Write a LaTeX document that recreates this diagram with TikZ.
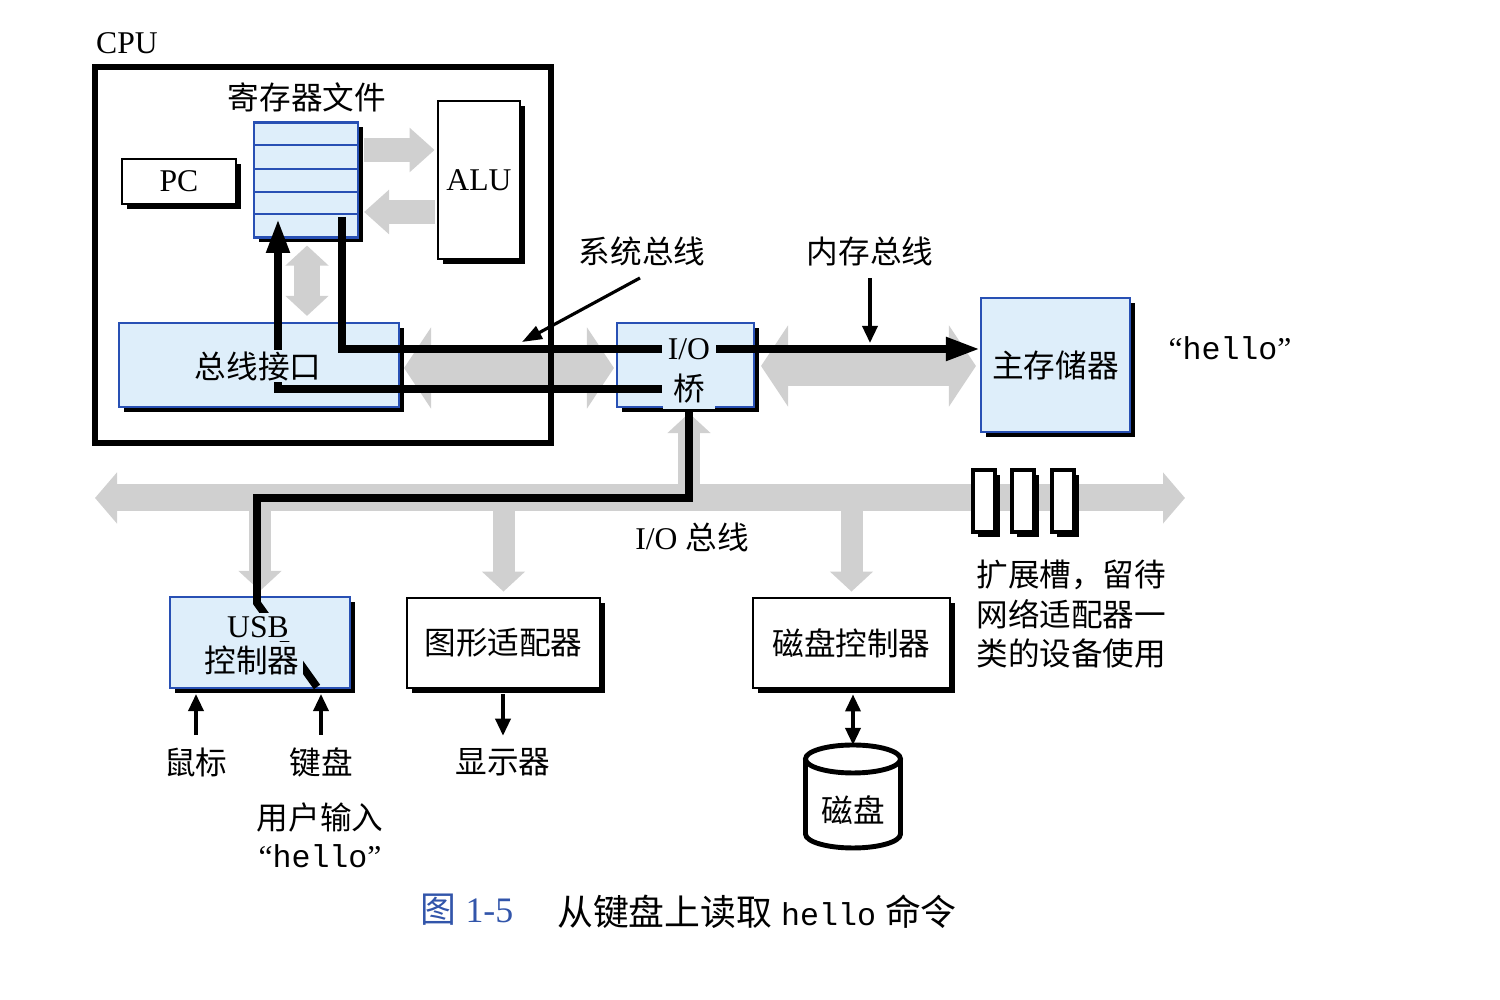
\documentclass[tikz,border=0pt]{standalone}
\usepackage{fontspec}
\setmainfont{Liberation Serif}
\newfontfamily\cjk{Noto Sans CJK SC}
\newfontfamily\hellofont{Liberation Mono}
\usepackage{xcolor}
\usetikzlibrary{
	arrows.meta,
	calc,
	shadows
}
\definecolor{BoxBlue}{RGB}{222,238,250}
\definecolor{EdgeBlue}{RGB}{40,80,180}
\definecolor{BusGray}{RGB}{208,208,208}
\definecolor{CapBlue}{RGB}{50,85,170}
\pgfdeclarelayer{bus}
\pgfdeclarelayer{front}
\pgfsetlayers{bus,main,front}
\newcommand{\quotedhello}{“{\hellofont hello}”}
\tikzset{
	wirehead/.tip={Triangle[length=0.34cm,width=0.22cm]},
	smallhead/.tip={Triangle[length=0.17cm,width=0.15cm]},
	alhead/.tip={Triangle[length=0.25cm,width=0.43cm]},
	sysbushead/.tip={Triangle[length=0.27cm,width=0.8cm]},
	iobushead/.tip={Triangle[length=0.22cm,width=0.5cm]},
	drophead/.tip={Triangle[length=0.2cm,width=0.42cm]}
}

\begin{document}
\begin{tikzpicture}[
		font=\fontsize{9pt}{11pt}\selectfont,
		cn/.style={font=\fontsize{9pt}{11pt}\selectfont\cjk},
		whitebox/.style={draw, line width=0.8pt, fill=white, inner sep=0pt,
			drop shadow={shadow xshift=0.05cm, shadow yshift=-0.05cm, fill=black, opacity=1}},
		bluebox/.style={whitebox, draw=EdgeBlue, fill=BoxBlue, line width=0.6pt},
		masked/.style={fill=BoxBlue, inner sep=1.5pt},
		wire/.style={line width=2.2pt},
		thinarrow/.style={line width=1pt},
		busarrow/.style={draw=BusGray, line width=#1}
	]
		\useasboundingbox (0,0) rectangle (15,-10);
		% CPU and its parts
		\node[draw, line width=1.6pt, minimum width=4.56cm, minimum height=3.76cm] (cpu) at (3.23,-2.55) {};
		\node (cpuname) at (1.27,-0.43) {CPU};
		\node[cn] (regname) at (3.07,-0.97) {寄存器文件};
		\node[bluebox, minimum width=1.04cm, minimum height=1.15cm] (regfile) at (3.06,-1.80) {};
		\foreach \y in {1.45,1.69,1.92,2.14}
			\draw[EdgeBlue, line width=0.6pt] (2.54,-\y) -- (3.58,-\y);
		\node[whitebox, minimum width=1.14cm, minimum height=0.45cm] (pc) at (1.79,-1.815) {PC};
		\node[whitebox, minimum width=0.82cm, minimum height=1.58cm] (alu) at (4.79,-1.80) {ALU};
		\node[bluebox, minimum width=2.80cm, minimum height=0.84cm] (busif) at (2.59,-3.65) {};
		% bridge, memory
		\node[bluebox, minimum width=1.37cm, minimum height=0.84cm] (bridge) at (6.855,-3.65) {};
		\node[bluebox, cn, minimum width=1.49cm, minimum height=1.34cm] (mem) at (10.555,-3.65) {主存储器};
		\node (memhello) at (12.30,-3.48) {\quotedhello};
		% devices
		\node[bluebox, minimum width=1.80cm, minimum height=0.91cm] (usb) at (2.60,-6.425) {};
		\node[whitebox, cn, minimum width=1.93cm, minimum height=0.90cm] (gfx) at (5.035,-6.43) {图形适配器};
		\node[whitebox, cn, minimum width=1.97cm, minimum height=0.90cm] (diskctl) at (8.515,-6.43) {磁盘控制器};
		\foreach \x [count=\i] in {9.84,10.23,10.63}
			\node[whitebox, line width=1pt, minimum width=0.22cm, minimum height=0.62cm] (slot\i) at (\x,-5.01) {};
		% texts that sit on the wires
		\begin{pgfonlayer}{front}
			\node[masked, cn, inner sep=0.5pt] (busiftext) at (2.58,-3.66) {总线接口};
			\node[masked] (iotext) at (6.89,-3.49) {I/O};
			\node[masked, cn, inner xsep=3pt] (qiao) at (6.89,-3.89) {桥};
			\node[masked, inner sep=1pt] (usbname) at (2.58,-6.27) {USB};
			\node[masked, cn, inner sep=1pt] (usbctl) at (2.52,-6.60) {控制器};
		\end{pgfonlayer}
		% labels
		\node[cn] (sysbus) at (6.42,-2.51) {系统总线};
		\node[cn] (membus) at (8.70,-2.51) {内存总线};
		\node (iobusname) at (6.92,-5.37) {I/O {\cjk 总线}};
		\node[anchor=north west, align=left, font=\fontsize{9pt}{11.2pt}\selectfont\cjk] (slotnote) at (9.64,-5.48) {扩展槽，留待\\网络适配器一\\类的设备使用};
		\node[cn] (mouse) at (1.96,-7.62) {鼠标};
		\node[cn] (keyboard) at (3.21,-7.62) {键盘};
		\node[cn] (display) at (5.03,-7.62) {显示器};
		\node[align=center, font=\fontsize{9pt}{10.8pt}\selectfont] (userin) at (3.20,-8.35) {{\cjk 用户输入}\\\quotedhello};
		\node[cn] (disklabel) at (8.53,-8.10) {磁盘};
		\node[text=CapBlue, font=\fontsize{10.2pt}{12pt}\selectfont] (capnum) at (4.67,-9.10) {{\cjk 图} 1-5};
		\node[font=\fontsize{10.2pt}{12pt}\selectfont] (captext) at (7.57,-9.12) {{\cjk 从键盘上读取} {\fontsize{9pt}{11pt}\selectfont\hellofont hello} {\cjk 命令}};
		\coordinate (iobusL) at (0.95,-4.98);
		\coordinate (iobusR) at (11.85,-4.98);
		\coordinate (regout) at (3.42,-2.17);
		\coordinate (regin) at (2.78,-2.19);
		\coordinate (usbbend) at (2.57,-4.98);
		\coordinate (usbtop) at (2.57,-6.03);
		\coordinate (usbin) at (3.17,-6.87);
		\coordinate (sysbustip) at (5.22,-3.42);
		\coordinate (membustip) at (8.70,-3.43);
		\coordinate (disktop) at (8.53,-7.45);
		% grey buses
		\begin{pgfonlayer}{bus}
			\draw[busarrow=0.24cm, -alhead] ($(regfile.east)+(0.05,0.30)$) -- ($(alu.west)+(-0.02,0.30)$);
			\draw[busarrow=0.24cm, -alhead] ($(alu.west)+(-0.02,-0.32)$) -- ($(regfile.east)+(0.05,-0.32)$);
			\draw[busarrow=0.26cm, drophead-drophead] ($(regfile.south)+(0.01,-0.07)$) -- ($(busif.north -| regfile.south)+(0.01,0.06)$);
			\draw[busarrow=0.40cm, sysbushead-sysbushead] ($(busif.east)+(0.04,-0.03)$) -- ($(bridge.west)+(-0.02,-0.03)$);
			\draw[busarrow=0.40cm, sysbushead-sysbushead] ($(bridge.east)+(0.06,-0.01)$) -- ($(mem.west)+(-0.04,-0.01)$);
			\draw[busarrow=0.27cm, iobushead-iobushead] (iobusL) -- (iobusR);
			\draw[busarrow=0.22cm, -drophead] ($(usb.north |- iobusL)+(0,-0.1)$) -- ($(usb.north)+(0,0.05)$);
			\draw[busarrow=0.22cm, -drophead] ($(gfx.north |- iobusL)+(0,-0.1)$) -- ($(gfx.north)+(0,0.05)$);
			\draw[busarrow=0.22cm, -drophead] ($(diskctl.north |- iobusL)+(0,-0.1)$) -- ($(diskctl.north)+(0,0.05)$);
			\draw[busarrow=0.22cm, -drophead] (qiao |- iobusL) -- ($(bridge.south -| qiao)+(0,-0.05)$);
		\end{pgfonlayer}
		% black data paths
		\draw[wire] (regout) |- (iotext.west);
		\draw[wire, -wirehead] (iotext.east) -- (mem.west |- iotext);
		\draw[wire, -wirehead] (qiao.west) -| (regin);
		\draw[wire] (bridge.south -| qiao) |- (usbbend) -- (usbtop) -- (usbin);
		% pointers and small arrows
		\draw[line width=0.9pt, -{Triangle[length=0.2cm,width=0.14cm]}] ($(sysbus.south)+(-0.02,0)$) -- (sysbustip);
		\draw[thinarrow, -smallhead] (membus.south) -- (membustip);
		\draw[thinarrow, -smallhead, shorten >=0.05cm] (mouse.north) -- (mouse.north |- usb.south);
		\draw[thinarrow, -smallhead, shorten >=0.05cm] (keyboard.north) -- (keyboard.north |- usb.south);
		\draw[thinarrow, -smallhead, shorten <=0.05cm] (gfx.south -| display) -- (display.north);
		\draw[thinarrow, smallhead-smallhead, shorten <=0.05cm] (diskctl.south -| disktop) -- (disktop);
		% disk
		\draw[line width=1.4pt] (8.055,-7.59) -- (8.055,-8.34) arc[start angle=180, end angle=360, x radius=0.475cm, y radius=0.14cm] -- (9.005,-7.59);
		\draw[line width=1.4pt] (8.53,-7.59) ellipse[x radius=0.475cm, y radius=0.14cm];
	\end{tikzpicture}
\end{document}
